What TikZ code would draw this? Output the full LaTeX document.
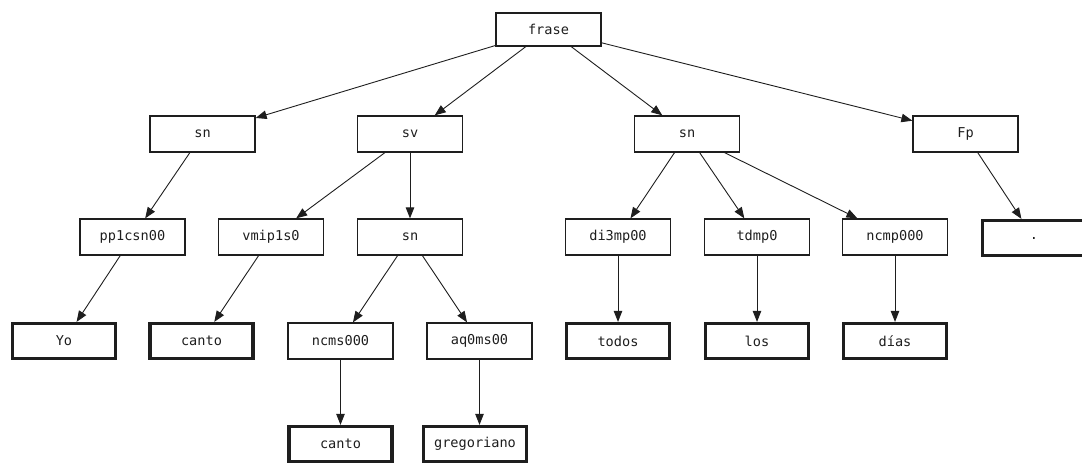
\documentclass[tikz,border=0pt]{standalone}
\usepackage{fontspec}
\setmonofont{DejaVu Sans Mono}
\usetikzlibrary{arrows.meta}
\definecolor{ink}{HTML}{1E1E1E}
\tikzset{
  tnode/.style={draw=ink, line width=1.3pt, minimum width=105pt, minimum height=36pt, inner sep=0pt, font=\ttfamily\fontsize{13.6}{15}\selectfont, text=ink},
  leaf/.style={tnode, line width=3.2pt, minimum width=103pt, minimum height=35pt},
  edge/.style={draw=ink, line width=0.9pt, -{Triangle[length=11pt,width=8.5pt]}}
}
\begin{document}
\begin{tikzpicture}[x=1pt,y=-1pt]
\useasboundingbox (0,0) rectangle (1082,463);
% level 0
\node[tnode, minimum height=33pt] (frase) at (548.5,29.5) {frase};
% level 1
\node[tnode] (sn1) at (202.5,134) {sn};
\node[tnode] (sv)  at (410,134) {sv};
\node[tnode] (sn2) at (687,134) {sn};
\node[tnode] (fp)  at (965.5,134) {Fp};
% level 2
\node[tnode] (pp)    at (132.5,237) {pp1csn00};
\node[tnode] (vmip)  at (271,237) {vmip1s0};
\node[tnode] (snb)   at (410,237) {sn};
\node[tnode] (di)    at (618,237) {di3mp00};
\node[tnode] (td)    at (757,237) {tdmp0};
\node[tnode] (ncmp)  at (895,237) {ncmp000};
\node[leaf]  (dot)   at (1034,238) {.};
% level 3
\node[leaf]  (yo)     at (64,341) {Yo};
\node[leaf]  (canto1) at (201.5,341) {canto};
\node[tnode] (ncms)   at (340.5,341) {ncms000};
\node[tnode] (aq)     at (479.5,341) {aq0ms00};
\node[leaf]  (todos)  at (618,341) {todos};
\node[leaf]  (los)    at (757,341) {los};
\node[leaf]  (dias)   at (895,341) {días};
% level 4
\node[leaf]  (canto2) at (340.5,444) {canto};
\node[leaf]  (greg)   at (475,444) {gregoriano};
% edges
\draw[edge] (frase) -- (sn1);
\draw[edge] (frase) -- (sv);
\draw[edge] (frase) -- (sn2);
\draw[edge] (frase) -- (fp);
\draw[edge] (sn1) -- (pp);
\draw[edge] (pp) -- (yo);
\draw[edge] (sv) -- (vmip);
\draw[edge] (sv) -- (snb);
\draw[edge] (vmip) -- (canto1);
\draw[edge] (snb) -- (ncms);
\draw[edge] (snb) -- (aq);
\draw[edge] (ncms) -- (canto2);
\draw[edge] (aq.south) -- (aq.south |- greg.north);
\draw[edge] (sn2) -- (di);
\draw[edge] (sn2) -- (td);
\draw[edge] (sn2) -- (ncmp);
\draw[edge] (di) -- (todos);
\draw[edge] (td) -- (los);
\draw[edge] (ncmp) -- (dias);
\draw[edge] (fp) -- (dot);
\end{tikzpicture}
\end{document}
